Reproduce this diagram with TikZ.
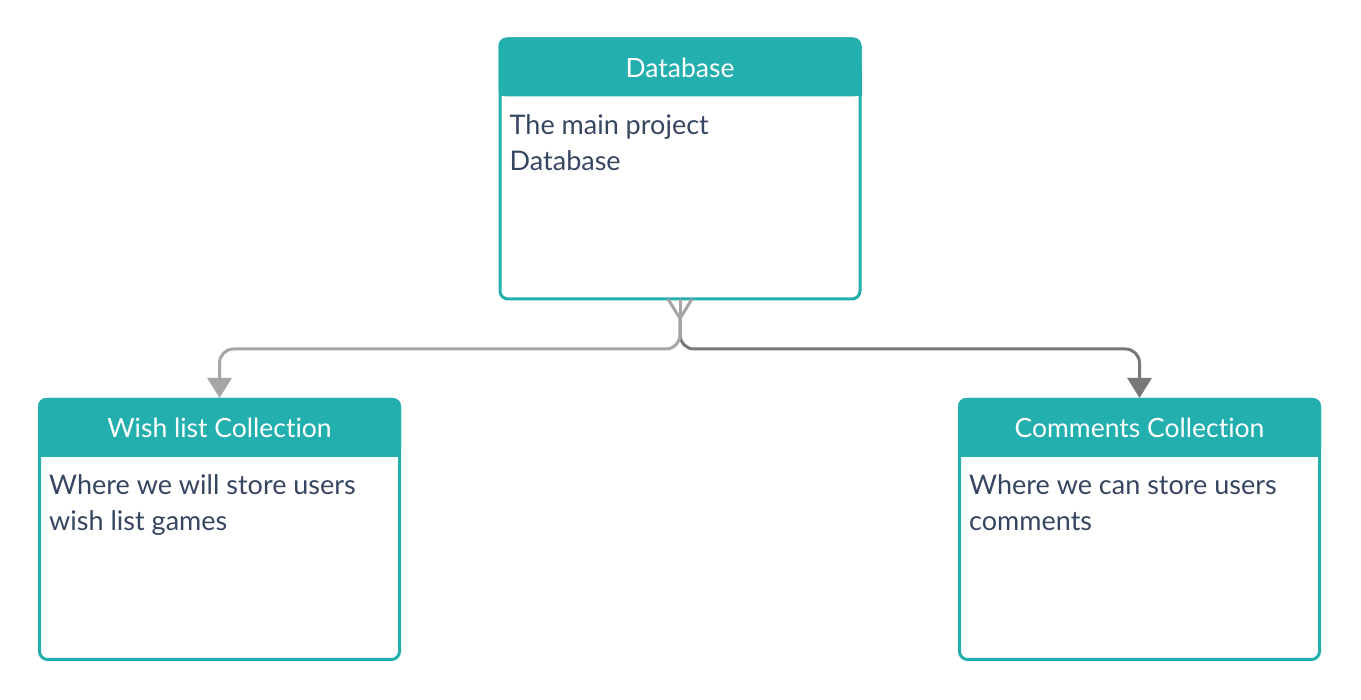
\documentclass[tikz,border=0pt]{standalone}
\usepackage{fontspec}
\setmainfont{Lato}[Ligatures={NoCommon,NoRare}]
\usetikzlibrary{arrows.meta}
\definecolor{teal1}{HTML}{23AFAE}
\definecolor{txt1}{HTML}{364661}
\definecolor{grayL}{HTML}{A6A6A6}
\definecolor{grayD}{HTML}{787878}
\tikzset{
  box/.style={draw=teal1, line width=3pt, rounded corners=8pt, fill=white,
    minimum width=360pt, minimum height=260pt, inner sep=0pt},
  head/.style={font=\fontsize{26.5}{30}\selectfont, text=white, anchor=base, inner sep=0pt},
  body/.style={font=\fontsize{27}{36}\selectfont, text=txt1, anchor=base west, align=left, inner sep=0pt},
  conn/.style={line width=3pt, rounded corners=14pt, -{Triangle[width=24pt,length=20pt]}},
}
\newcommand{\hdrfill}[1]{%
  \fill[teal1, rounded corners=8pt] (#1.north west) rectangle ([yshift=-59pt]#1.north east);
  \fill[teal1] ([yshift=-30pt]#1.north west) rectangle ([yshift=-59pt]#1.north east);
}
\begin{document}
\begin{tikzpicture}[x=1pt,y=1pt]
\useasboundingbox (0,0) rectangle (1361,700);
\fill[white] (0,0) rectangle (1361,700);
% boxes
\node[box] (db) at (680,531) {};
\node[box] (wl) at (219.5,170.5) {};
\node[box] (cc) at (1139.5,170.5) {};
\hdrfill{db}
\hdrfill{wl}
\hdrfill{cc}
\node[head] (dbh) at ([yshift=-40pt]db.north) {Database};
\node[head] (wlh) at ([yshift=-40pt]wl.north) {Wish list Collection};
\node[head] (cch) at ([yshift=-40pt]cc.north) {Comments Collection};
\node[body] (dbb) at ([xshift=11pt,yshift=-133pt]db.north west) {The main project\\Database};
\node[body] (wlb) at ([xshift=11pt,yshift=-133pt]wl.north west) {Where we will store users\\wish list games};
\node[body] (ccb) at ([xshift=11pt,yshift=-133pt]cc.north west) {Where we can store users\\comments};
% connectors
\coordinate (cf) at ([yshift=-18pt]db.south);
\coordinate (mid) at (680,351);
\draw[conn, grayD] (cf) |- (mid -| cc.north) -- (cc.north);
\draw[conn, grayL] (cf) |- (mid -| wl.north) -- (wl.north);
\draw[grayL, line width=3pt] ([xshift=-12pt,yshift=1.5pt]db.south) -- (cf);
\draw[grayL, line width=3pt] ([yshift=1.5pt]db.south) -- (cf);
\draw[grayL, line width=3pt] ([xshift=12pt,yshift=1.5pt]db.south) -- (cf);
\end{tikzpicture}
\end{document}
